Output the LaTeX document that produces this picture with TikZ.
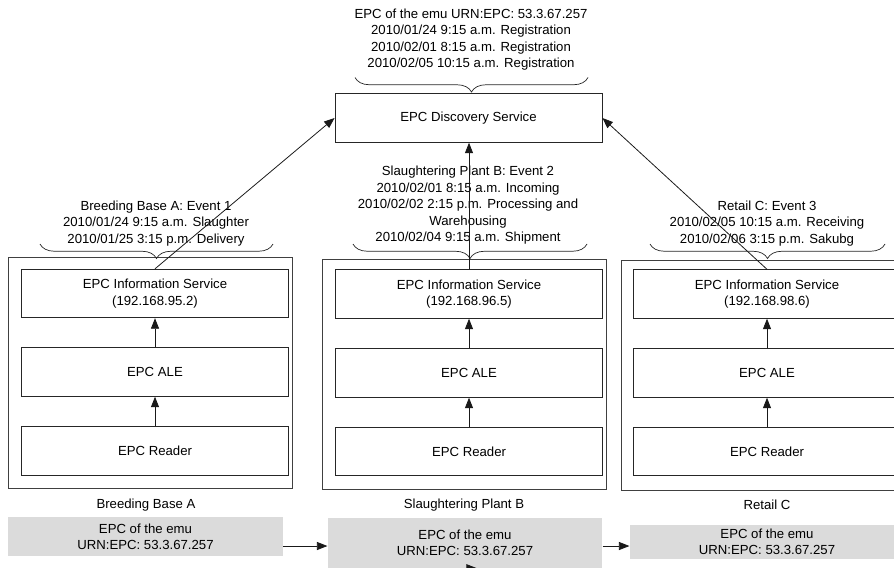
\documentclass[tikz,border=0pt]{standalone}
\usepackage{fontspec}
\setmainfont{Liberation Sans}
\usetikzlibrary{arrows.meta,decorations.pathreplacing}

\begin{document}
\begin{tikzpicture}[
  font=\fontsize{7.5}{9.3}\selectfont,
  box/.style={draw=black!85, line width=0.5pt, minimum width=5.34cm, minimum height=0.97cm, inner sep=0pt, align=center},
  site/.style={draw=black!75, line width=0.5pt, minimum width=5.68cm, minimum height=4.61cm, inner sep=0pt},
  emu/.style={fill=black!14, minimum width=5.49cm, inner sep=0pt, align=center},
  arr/.style={-{Triangle[length=6pt,width=4.6pt]}, line width=0.45pt, black!90},
  curly/.style={decorate, decoration={brace, amplitude=0.29cm}, line width=0.4pt, black!85},
  note/.style={align=center, inner sep=0pt, font=\fontsize{7.5}{9.4}\selectfont}]
\useasboundingbox (0,0) rectangle (17.88,-11.34);

\node[box] (disc) at (9.37,-2.36) {EPC Discovery Service};
\node[note] (reg) at (9.42,-0.79) {EPC of the emu URN:EPC: 53.3.67.257\\2010/01/24 9:15 a.m. Registration\\2010/02/01 8:15 a.m. Registration\\2010/02/05 10:15 a.m. Registration};
\draw[curly] (11.76,-1.55) -- (7.10,-1.55);

\node[site] (siteA) at (3.01,-7.46) {};
\node[box] (isA) at (3.10,-5.87) {EPC Information Service\\(192.168.95.2)};
\node[box] (aleA) at (3.10,-7.44) {EPC ALE};
\node[box] (readerA) at (3.10,-9.02) {EPC Reader};
\node (nameA) at (2.92,-10.10) {Breeding Base A};
\node[emu, minimum height=0.78cm] (emuA) at (2.91,-10.73) {EPC of the emu\\URN:EPC: 53.3.67.257};
\node[note] (evA) at (3.12,-4.47) {Breeding Base A: Event 1\\2010/01/24 9:15 a.m. Slaughter\\2010/01/25 3:15 p.m. Delivery};
\draw[curly] (5.46,-4.88) -- (0.80,-4.88);

\node[site] (siteB) at (9.29,-7.49) {};
\node[box] (isB) at (9.38,-5.88) {EPC Information Service\\(192.168.96.5)};
\node[box] (aleB) at (9.38,-7.46) {EPC ALE};
\node[box] (readerB) at (9.38,-9.03) {EPC Reader};
\node (nameB) at (9.28,-10.10) {Slaughtering Plant B};
\node[emu, minimum height=1.0cm] (emuB) at (9.30,-10.86) {EPC of the emu\\URN:EPC: 53.3.67.257};
\node[note] (evB) at (9.36,-4.11) {Slaughtering Plant B: Event 2\\2010/02/01 8:15 a.m. Incoming\\2010/02/02 2:15 p.m. Processing and\\Warehousing\\2010/02/04 9:15 a.m. Shipment};
\draw[curly] (11.74,-4.88) -- (7.06,-4.88);

\node[site] (siteC) at (15.27,-7.51) {};
\node[box] (isC) at (15.34,-5.88) {EPC Information Service\\(192.168.98.6)};
\node[box] (aleC) at (15.34,-7.46) {EPC ALE};
\node[box] (readerC) at (15.34,-9.03) {EPC Reader};
\node (nameC) at (15.34,-10.10) {Retail C};
\node[emu, minimum height=0.67cm] (emuC) at (15.34,-10.84) {EPC of the emu\\URN:EPC: 53.3.67.257};
\node[note] (evC) at (15.34,-4.47) {Retail C: Event 3\\2010/02/05 10:15 a.m. Receiving\\2010/02/06 3:15 p.m. Sakubg};
\draw[curly] (17.70,-4.88) -- (13.00,-4.88);

\draw[arr] (readerA) -- (aleA);
\draw[arr] (aleA) -- (isA);
\draw[arr] (readerB) -- (aleB);
\draw[arr] (aleB) -- (isB);
\draw[arr] (readerC) -- (aleC);
\draw[arr] (aleC) -- (isC);

\draw[arr] (isA.north) -- (disc.west);
\draw[arr] (isB.north) -- (isB.north |- disc.south);
\draw[arr] (isC.north) -- (disc.east);

\coordinate (flow) at (0,-10.92);
\draw[arr] (emuA.east |- flow) -- (emuB.west |- flow);
\draw[arr] (emuB.east |- flow) -- (emuC.west |- flow);
\coordinate (tailB) at (9.05,-11.365);
\coordinate (headB) at (9.54,-11.365);
\draw[arr] (tailB) -- (headB);
\end{tikzpicture}
\end{document}
